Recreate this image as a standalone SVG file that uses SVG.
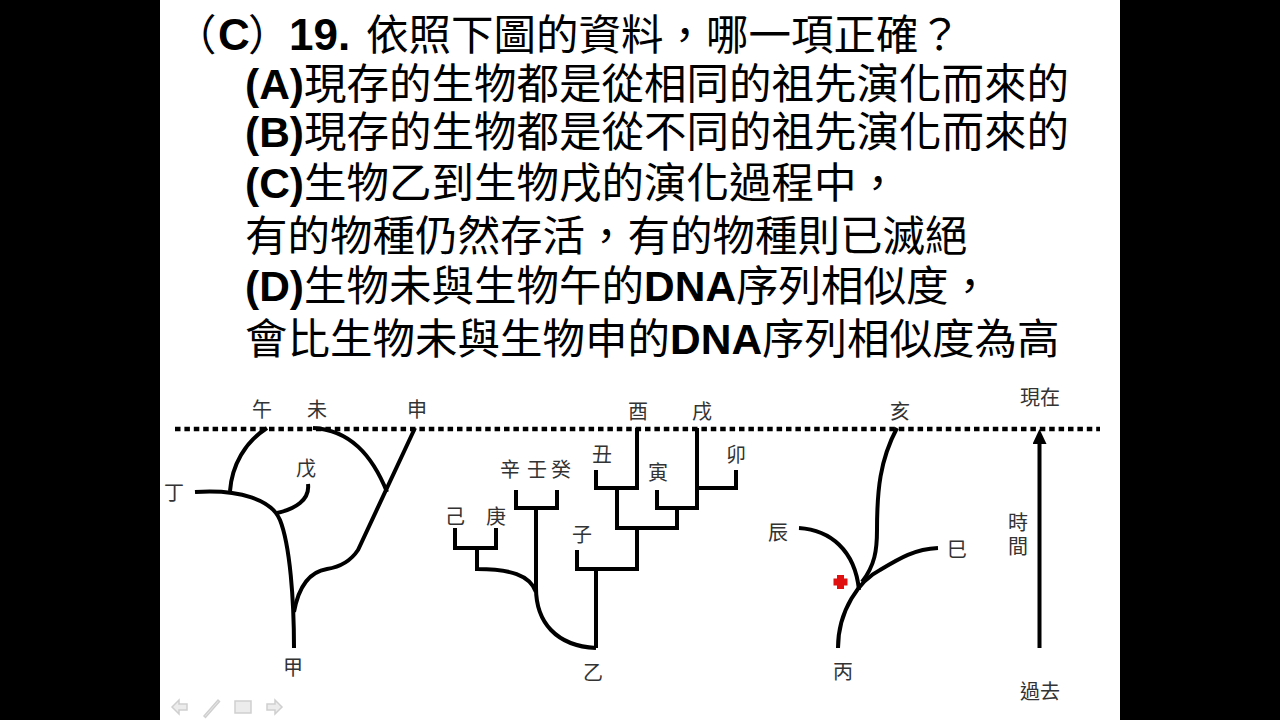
<svg xmlns="http://www.w3.org/2000/svg" width="1280" height="720" viewBox="0 0 1280 720">
<style>
.q{font-family:"Noto Sans CJK TC","Noto Sans CJK SC",sans-serif;font-size:42.5px;fill:#000}
.b{font-family:"Liberation Sans",Arial,sans-serif;font-weight:bold}
.lb{font-family:"Noto Sans CJK TC","Noto Sans CJK SC",sans-serif;font-size:20px;fill:#333;text-anchor:middle}
.t{fill:none;stroke:#000;stroke-width:4}
.n{stroke:#cfcfcf;stroke-width:1.5;fill:#ececec}
</style>
<defs>
<marker id="ah" markerUnits="userSpaceOnUse" markerWidth="15" markerHeight="14" refX="1" refY="7" orient="auto" viewBox="0 0 15 14">
<polygon points="15,7 0,0 0,14" fill="#000"/>
</marker>
</defs>
<rect x="0" y="0" width="1280" height="720" fill="#fff"/>
<rect x="0" y="0" width="160" height="720" fill="#000"/>
<rect x="1120" y="0" width="160" height="720" fill="#000"/>

<g id="question">
<text class="q" y="50"><tspan x="174">（</tspan><tspan class="b" x="218" font-size="44">C</tspan><tspan x="248">）</tspan><tspan class="b" x="289" font-size="44">19.</tspan><tspan x="366">依照下圖的資料，哪一項正確？</tspan></text>
<text class="q" x="245" y="99"><tspan class="b">(A)</tspan>現存的生物都是從相同的祖先演化而來的</text>
<text class="q" x="245" y="147"><tspan class="b">(B)</tspan>現存的生物都是從不同的祖先演化而來的</text>
<text class="q" x="245" y="198"><tspan class="b">(C)</tspan>生物乙到生物戌的演化過程中，</text>
<text class="q" x="245" y="251">有的物種仍然存活，有的物種則已滅絕</text>
<text class="q" x="245" y="301"><tspan class="b">(D)</tspan>生物未與生物午的<tspan class="b">DNA</tspan>序列相似度，</text>
<text class="q" x="245" y="354">會比生物未與生物申的<tspan class="b">DNA</tspan>序列相似度為高</text>
</g>

<g id="present-line">
<line x1="175" y1="429" x2="1100" y2="429" stroke="#000" stroke-width="4.5" stroke-dasharray="5.5 3.9"/>
</g>

<g id="connectors">
<!-- tree 甲 -->
<path class="t" d="M195,492 C240,489 272,500 280,520 C290,545 294,600 294,648"/>
<path class="t" d="M230,491 C232,465 245,442 267,428"/>
<path class="t" d="M277,513 C295,509 310,500 308,484"/>
<path class="t" d="M294,612 C298,590 308,572 327,569 C340,567 350,562 358,550 L415,428"/>
<path class="t" d="M387,492 C372,455 350,430 313,428"/>
<!-- tree 乙 -->
<path class="t" d="M596,648 C556,646 536,622 536,588 L536,508"/>
<path class="t" d="M516,490 V508 H557 V490"/>
<path class="t" d="M536,592 C530,575 510,569 477,569 V548"/>
<path class="t" d="M455,528 V548 H496 V528"/>
<path class="t" d="M596,648 V569"/>
<path class="t" d="M577,550 V569 H637 V528"/>
<path class="t" d="M617,488 V528 H677 V508"/>
<path class="t" d="M596,470 V488 H637 V428"/>
<path class="t" d="M657,490 V508 H697 V428"/>
<path class="t" d="M697,488 H736 V470"/>
<!-- tree 丙 -->
<path class="t" d="M838,648 C838,610 860,580 880,570 C900,558 915,549 938,548"/>
<path class="t" d="M799,528 C830,530 855,550 859,590"/>
<path class="t" d="M862,582 C875,565 877,550 877,530 C877,490 880,460 897,428"/>
<!-- time arrow -->
<line x1="1039.5" y1="648" x2="1039.5" y2="443" stroke="#000" stroke-width="4" marker-end="url(#ah)"/>
</g>

<g id="marker-cross">
<path d="M837,575 h7 v3.5 h3.5 v7 h-3.5 v3.5 h-7 v-3.5 h-3.5 v-7 h3.5 z" fill="#e01010"/>
</g>

<g id="node-wu2"><text class="lb" x="262" y="417">午</text></g>
<g id="node-wei"><text class="lb" x="317" y="417">未</text></g>
<g id="node-shen"><text class="lb" x="417" y="417">申</text></g>
<g id="node-wu"><text class="lb" x="306" y="476">戊</text></g>
<g id="node-ding"><text class="lb" x="174" y="500">丁</text></g>
<g id="node-jia"><text class="lb" x="293" y="675">甲</text></g>

<g id="node-you"><text class="lb" x="638" y="419">酉</text></g>
<g id="node-xu"><text class="lb" x="702" y="419">戌</text></g>
<g id="node-chou"><text class="lb" x="602" y="462">丑</text></g>
<g id="node-mao"><text class="lb" x="736" y="462">卯</text></g>
<g id="node-yin"><text class="lb" x="658" y="480">寅</text></g>
<g id="node-xin"><text class="lb" x="510" y="477">辛</text></g>
<g id="node-ren"><text class="lb" x="537" y="477">壬</text></g>
<g id="node-gui"><text class="lb" x="561" y="477">癸</text></g>
<g id="node-ji"><text class="lb" x="455" y="524">己</text></g>
<g id="node-geng"><text class="lb" x="496" y="524">庚</text></g>
<g id="node-zi"><text class="lb" x="582" y="542">子</text></g>
<g id="node-yi"><text class="lb" x="593" y="680">乙</text></g>

<g id="node-hai"><text class="lb" x="900" y="419">亥</text></g>
<g id="node-chen"><text class="lb" x="778" y="540">辰</text></g>
<g id="node-si"><text class="lb" x="957" y="557">巳</text></g>
<g id="node-bing"><text class="lb" x="843" y="679">丙</text></g>

<g id="axis-labels">
<text class="lb" x="1040" y="405">現在</text>
<text class="lb" x="1018" y="530">時</text>
<text class="lb" x="1018" y="554">間</text>
<text class="lb" x="1040" y="699">過去</text>
</g>

<g id="nav">
<path class="n" d="M172,707 l7,-7 v4 h8 v6 h-8 v4 z"/>
<path class="n" d="M204,716 l14,-16 l1.5,1.5 l-14,16 z"/>
<rect class="n" x="235" y="701" width="16" height="12"/>
<path class="n" d="M282,707 l-7,-7 v4 h-8 v6 h8 v4 z"/>
</g>
</svg>
